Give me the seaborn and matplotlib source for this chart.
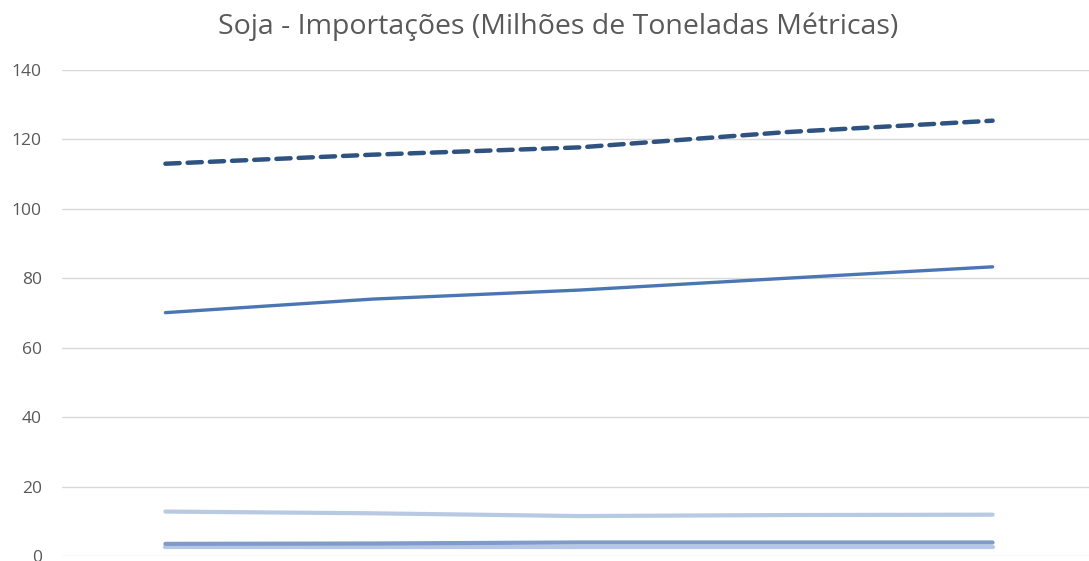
import numpy as np
import pandas as pd
import matplotlib
matplotlib.use("Agg")
import matplotlib.pyplot as plt
import seaborn as sns

# categorias do eixo x (rótulos não aparecem no recorte)
periodos = ['P1', 'P2', 'P3', 'P4', 'P5']

# séries (milhões de toneladas métricas)
total = [113.0, 115.6, 117.7, 122.1, 125.4]
serie_a = [70.1, 74.0, 76.6, 80.0, 83.3]
serie_b = [12.8, 12.3, 11.5, 11.8, 11.9]
serie_c = [3.5, 3.6, 3.9, 3.9, 3.9]
serie_d = [2.6, 2.6, 2.6, 2.6, 2.6]

sns.set_theme(style="white")
plt.rcParams['font.family'] = ['Open Sans', 'DejaVu Sans']

fig = plt.figure(figsize=(10.89, 5.61), dpi=100)
ax = fig.add_axes([62 / 1089, 5 / 561, 1034 / 1089, 486 / 561])

x = np.arange(len(periodos))
estilos = [
    (serie_d, '#B4C7E7', 3.0, '-'),
    (serie_c, '#7F9BC8', 3.0, '-'),
    (serie_b, '#B8C9E2', 3.0, '-'),
    (serie_a, '#4A76B4', 2.4, '-'),
    (total, '#2F5380', 3.2, '--'),
]
for valores, cor, lw, ls in estilos:
    sns.lineplot(x=x, y=valores, color=cor, linewidth=lw, linestyle=ls, ax=ax,
                 solid_capstyle='round', dash_capstyle='round')
ax.lines[-1].set_dashes([3.2, 1.8])

ax.set_xlim(-0.5, len(periodos) - 0.5)
ax.set_ylim(0, 140)
ax.set_yticks(range(0, 141, 20))
ax.set_xticks([])
ax.yaxis.grid(True, color='#D9D9D9', linewidth=1)
ax.set_axisbelow(True)
for s in ax.spines.values():
    s.set_visible(False)
ax.tick_params(axis='y', length=0, pad=14.5, labelsize=12.5, labelcolor='#595959')

fig.text(558 / 1089, 1 - 27 / 561, 'Soja - Importações (Milhões de Toneladas Métricas)',
         ha='center', va='center', fontsize=20.5, color='#595959')

fig.savefig('out.png', dpi=100)
